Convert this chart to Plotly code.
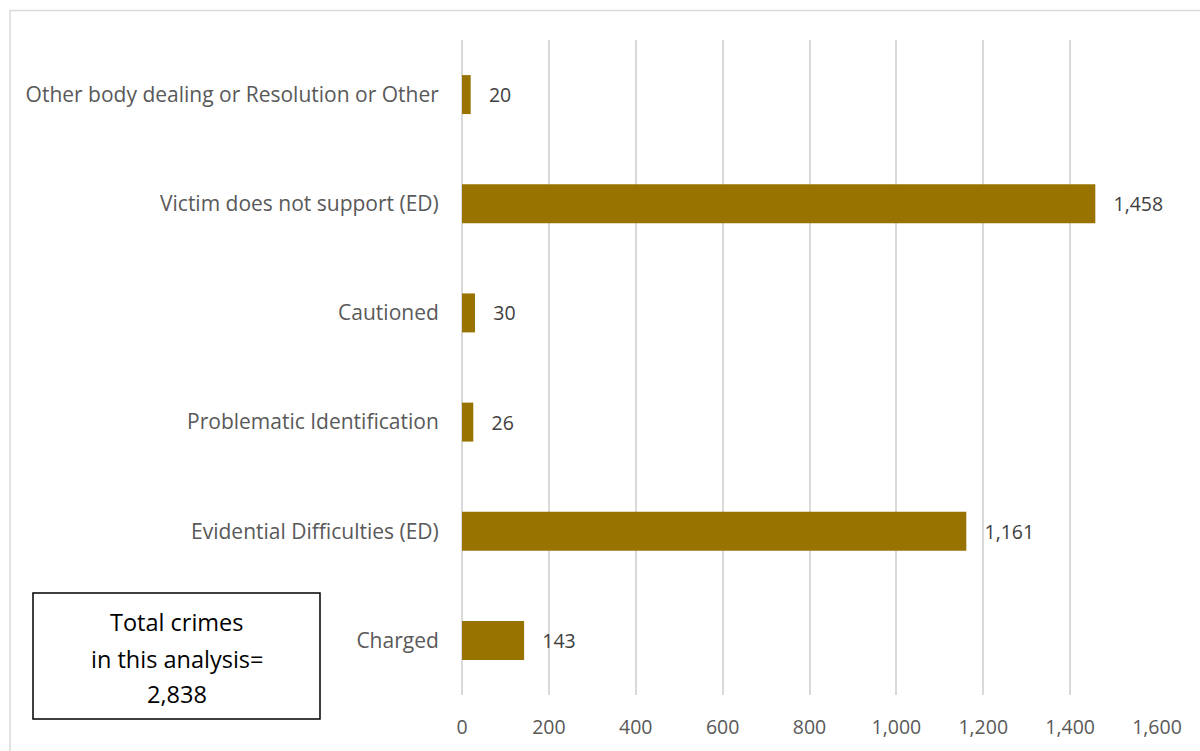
import plotly.graph_objects as go

categories = [
    "Charged",
    "Evidential Difficulties (ED)",
    "Problematic Identification",
    "Cautioned",
    "Victim does not support (ED)",
    "Other body dealing or Resolution or Other",
]
values = [143, 1161, 26, 30, 1458, 20]
x_ticks = [0, 200, 400, 600, 800, 1000, 1200, 1400, 1600]
box_lines = ["Total crimes", "in this analysis=", "2,838"]

W, H = 1200, 751
L, R, T, B = 462, 43, 40, 56
pw, ph = W - L - R, H - T - B

def px(x):
    return (x - L) / pw

def py(y):
    return (H - B - y) / ph

fig = go.Figure()
fig.add_trace(go.Bar(
    y=categories, x=values, orientation="h",
    marker=dict(color="#997300", line=dict(width=0)),
    texttemplate="   %{x:,}", textposition="outside",
    textfont=dict(family="Open Sans", size=19.5, color="#404040"),
    cliponaxis=False, hoverinfo="skip",
))

shapes = [
    dict(type="rect", xref="paper", yref="paper",
         x0=px(10), x1=px(1215), y0=py(766), y1=py(10.5),
         line=dict(color="#d9d9d9", width=1.5), fillcolor="rgba(0,0,0,0)", layer="below"),
    dict(type="rect", xref="paper", yref="paper",
         x0=px(33), x1=px(320), y0=py(719), y1=py(593),
         line=dict(color="#000000", width=1.5), fillcolor="white"),
]
annotations = []
for t, yy in zip(box_lines, [622, 659, 694]):
    annotations.append(dict(
        text=t, xref="paper", yref="paper", x=px(176.5), y=py(yy),
        xanchor="center", yanchor="middle", showarrow=False,
        font=dict(family="Open Sans", size=23.5, color="#000000"),
    ))

fig.update_layout(
    width=W, height=H,
    margin=dict(l=L, r=R, t=T, b=B, autoexpand=False),
    paper_bgcolor="white", plot_bgcolor="white",
    bargap=0.643, showlegend=False,
    shapes=shapes, annotations=annotations,
    xaxis=dict(
        range=[0, 1600], tickvals=x_ticks, tickformat=",",
        showgrid=True, gridcolor="#d9d9d9", gridwidth=1.5,
        zeroline=True, zerolinecolor="#d9d9d9", zerolinewidth=1.5,
        showline=False,
        ticks="outside", ticklen=15, tickcolor="rgba(0,0,0,0)",
        tickfont=dict(family="Open Sans", size=19.5, color="#595959"),
        fixedrange=True,
    ),
    yaxis=dict(
        categoryorder="array", categoryarray=categories,
        showgrid=False, zeroline=False, showline=False,
        ticks="outside", ticklen=18, tickcolor="rgba(0,0,0,0)",
        tickfont=dict(family="Open Sans", size=21, color="#595959"),
        fixedrange=True,
    ),
)

fig.write_html("out.html", config={"displayModeBar": False})
